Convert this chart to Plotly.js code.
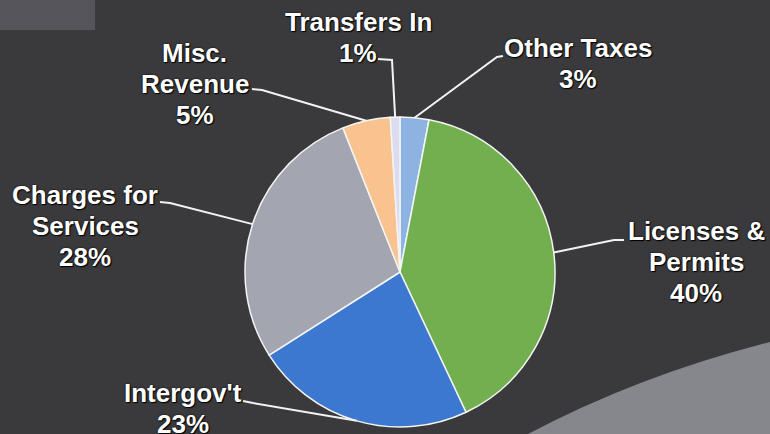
<!DOCTYPE html>
<html>
<head>
<meta charset="utf-8">
<script src="https://cdn.plot.ly/plotly-3.0.1.min.js"></script>
<style>html,body{margin:0;padding:0;background:#3a3a3c;}#chart{width:770px;height:434px;}</style>
</head>
<body>
<div id="chart"></div>
<script>
// ---- data ----
const categories = ["Other Taxes", "Licenses & Permits", "Intergov't", "Charges for Services", "Misc. Revenue", "Transfers In"];
const values = [3, 40, 23, 28, 5, 1];
const labelLines = [
  ["Other Taxes", "3%"],
  ["Licenses &", "Permits", "40%"],
  ["Intergov't", "23%"],
  ["Charges for", "Services", "28%"],
  ["Misc.", "Revenue", "5%"],
  ["Transfers In", "1%"]
];
const sliceColors = ["#8db3e2", "#72b04f", "#3d78d0", "#a3a5b0", "#f8c38e", "#dcdcf0"];

// ---- layout constants (pixels) ----
const W = 770, H = 434;
const CX = 400, CY = 272, R = 155;
// label text center x, first line y
const labelPos = [[578, 48], [696, 231], [183, 393], [85, 195], [195, 53], [358, 22]];
const lineStep = 31;
// leader line: start anchor near text, elbow
const leaderStart = [[503, 56], [624, 240], [243, 401], [160, 202], [252, 89], [378, 59]];
const leaderElbow = [[497, 57], [614, 240], [253, 403], [170, 203], [262, 90], [392, 60]];

const px = x => x / W;
const py = y => 1 - y / H;

const total = values.reduce((a, b) => a + b, 0);
let cum = 0;
const shapes = [];
const annotations = [];

// background decorations
shapes.push({type: 'rect', xref: 'paper', yref: 'paper', x0: 0, x1: px(95), y0: py(30), y1: 1,
  fillcolor: '#55555b', line: {width: 0}, layer: 'below'});
shapes.push({type: 'path', xref: 'paper', yref: 'paper', layer: 'below',
  path: `M ${px(528)} ${py(434)} Q ${px(640)} ${py(375)} ${px(770)} ${py(342)} L ${px(770)} ${py(434)} Z`,
  fillcolor: '#86878d', line: {width: 0}});

values.forEach((v, i) => {
  const mid = (cum + v / 2) / total;
  cum += v;
  const th = mid * 2 * Math.PI;
  const ex = CX + R * Math.sin(th);
  const ey = CY - R * Math.cos(th);
  const [sx, sy] = leaderStart[i];
  const [bx, by] = leaderElbow[i];
  shapes.push({type: 'path', xref: 'paper', yref: 'paper',
    path: `M ${px(sx)} ${py(sy)} L ${px(bx)} ${py(by)} L ${px(ex)} ${py(ey)}`,
    line: {color: '#f2f2f2', width: 2}});
  labelLines[i].forEach((t, k) => {
    annotations.push({
      text: t, xref: 'paper', yref: 'paper',
      x: px(labelPos[i][0]), y: py(labelPos[i][1] + k * lineStep),
      xanchor: 'center', yanchor: 'middle', showarrow: false,
      font: {family: 'Liberation Sans, Arial, sans-serif', size: 26, color: '#ffffff', weight: 'bold',
             shadow: '0 0 2px #000, 1px 1px 1px #000'}
    });
  });
});

const data = [{
  type: 'pie',
  labels: categories,
  values: values,
  sort: false,
  direction: 'clockwise',
  rotation: 0,
  marker: {colors: sliceColors, line: {color: '#f4f4f4', width: 1.5}},
  textinfo: 'none',
  hoverinfo: 'label+percent',
  showlegend: false,
  domain: {x: [px(CX - R), px(CX + R)], y: [py(CY + R), py(CY - R)]}
}];

const layout = {
  width: W, height: H,
  margin: {l: 0, r: 0, t: 0, b: 0},
  paper_bgcolor: '#3a3a3c',
  plot_bgcolor: '#3a3a3c',
  showlegend: false,
  shapes: shapes,
  annotations: annotations
};

Plotly.newPlot('chart', data, layout, {displayModeBar: false, staticPlot: true});
</script>
</body>
</html>
